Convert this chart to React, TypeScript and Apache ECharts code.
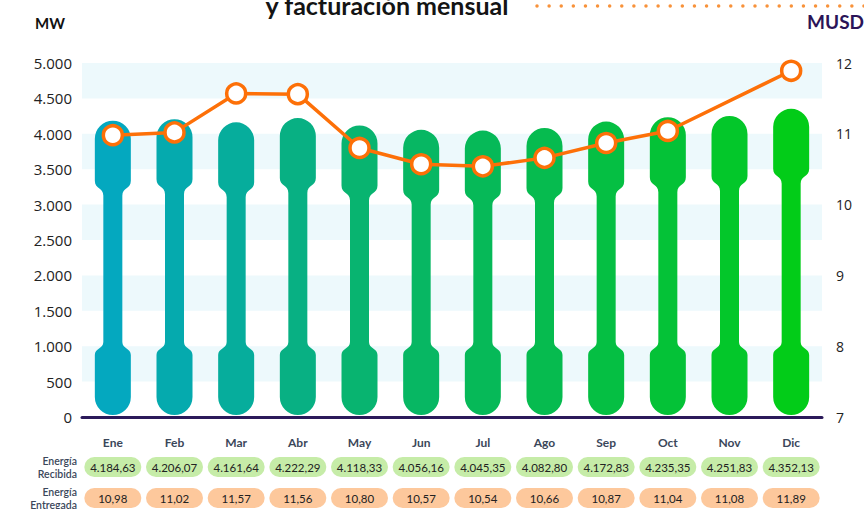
import React, { useEffect, useRef } from "react";
import * as echarts from "echarts";

const months = ["Ene", "Feb", "Mar", "Abr", "May", "Jun", "Jul", "Ago", "Sep", "Oct", "Nov", "Dic"];
const energiaRecibida = [4184.63, 4206.07, 4161.64, 4222.29, 4118.33, 4056.16, 4045.35, 4082.8, 4172.83, 4235.35, 4251.83, 4352.13];
const energiaEntregada = [10.98, 11.02, 11.57, 11.56, 10.8, 10.57, 10.54, 10.66, 10.87, 11.04, 11.08, 11.89];
// Line as drawn in the reference: no point for Nov (line goes Oct -> Dic)
const lineMUSD = [10.98, 11.02, 11.57, 11.56, 10.8, 10.57, 10.54, 10.66, 10.87, 11.04, null, 11.89];
const barColors = ["#04a8bf", "#05aaae", "#06ad9c", "#08b083", "#08b470", "#07b763", "#06b958", "#06bb4f", "#05bf43", "#04c237", "#03c72a", "#02cc18"];

const leftTicks = { min: 0, max: 5000, interval: 500 };
const rightTicks = { min: 7, max: 12, interval: 1 };

function fmt(v: number, d: number): string {
  const fixed = v.toFixed(d);
  const [intPart, dec] = fixed.split(".");
  const withDots = intPart.replace(/\B(?=(\d{3})+(?!\d))/g, ".");
  return dec ? withDots + "," + dec : withDots;
}

const FONT = "Lato, 'Open Sans', sans-serif";

export default function App() {
  const ref = useRef<HTMLDivElement>(null);
  useEffect(() => {
    if (!ref.current) return;
    const chart = echarts.init(ref.current, null, { renderer: "svg" });
    const W = 18;
    const S = 9.5;
    const option: any = {
      animation: false,
      grid: { left: 82, right: 42, top: 63, bottom: 92 },
      xAxis: {
        type: "category",
        data: months,
        offset: 2,
        axisLine: { show: true, lineStyle: { color: "#2b1a5a", width: 3 } },
        axisTick: { show: false },
        axisLabel: { fontFamily: FONT, fontWeight: "bold", fontSize: 12, color: "#3b475a", margin: 17 },
      },
      yAxis: [
        {
          type: "value",
          min: leftTicks.min,
          max: leftTicks.max,
          interval: leftTicks.interval,
          axisLine: { show: false },
          axisTick: { show: false },
          splitLine: { show: false },
          splitArea: { show: true, areaStyle: { color: ["rgba(255,255,255,0)", "#edf9fc"] } },
          axisLabel: { formatter: (v: number) => fmt(v, 0), fontSize: 15, color: "#222", margin: 10, fontFamily: "'Open Sans', sans-serif" },
        },
        {
          type: "value",
          min: rightTicks.min,
          max: rightTicks.max,
          interval: rightTicks.interval,
          position: "right",
          axisLine: { show: false },
          axisTick: { show: false },
          splitLine: { show: false },
          axisLabel: { fontSize: 14, color: "#222", margin: 14, fontFamily: "'Open Sans', sans-serif" },
        },
      ],
      series: [
        {
          type: "custom",
          name: "bars",
          data: energiaRecibida.map((v, i) => [i, v]),
          z: 2,
          renderItem: (params: any, api: any) => {
            const i = api.value(0);
            const v = api.value(1);
            const top = api.coord([i, v]);
            const base = api.coord([i, 0]);
            const cx = top[0];
            const yt = top[1];
            const yb = base[1] - 2;
            const H = 60, T = 15, B = 60, T2 = 13;
            const d = [
              `M ${cx - W} ${yt + W}`,
              `A ${W} ${W} 0 0 1 ${cx + W} ${yt + W}`,
              `L ${cx + W} ${yt + H}`,
              `C ${cx + W} ${yt + H + T * 0.55} ${cx + S} ${yt + H + T * 0.45} ${cx + S} ${yt + H + T}`,
              `L ${cx + S} ${yb - B - T2}`,
              `C ${cx + S} ${yb - B - T2 * 0.45} ${cx + W} ${yb - B - T2 * 0.55} ${cx + W} ${yb - B}`,
              `L ${cx + W} ${yb - W}`,
              `A ${W} ${W} 0 0 1 ${cx - W} ${yb - W}`,
              `L ${cx - W} ${yb - B}`,
              `C ${cx - W} ${yb - B - T2 * 0.55} ${cx - S} ${yb - B - T2 * 0.45} ${cx - S} ${yb - B - T2}`,
              `L ${cx - S} ${yt + H + T}`,
              `C ${cx - S} ${yt + H + T * 0.45} ${cx - W} ${yt + H + T * 0.55} ${cx - W} ${yt + H}`,
              "Z",
            ].join(" ");
            return { type: "path", shape: { pathData: d }, style: { fill: barColors[i] } };
          },
        },
        {
          type: "line",
          name: "MUSD",
          yAxisIndex: 1,
          data: lineMUSD,
          connectNulls: true,
          z: 5,
          symbol: "circle",
          symbolSize: 19,
          lineStyle: { color: "#fd7008", width: 3.5 },
          itemStyle: { color: "#ffffff", borderColor: "#fd7008", borderWidth: 3.5 },
        },
        {
          type: "custom",
          name: "pillsRecibida",
          data: energiaRecibida.map((v, i) => [i, v]),
          clip: false,
          renderItem: (params: any, api: any) => {
            const i = api.value(0);
            const v = api.value(1);
            const p = api.coord([i, 0]);
            const y = p[1] + 40;
            return {
              type: "group",
              children: [
                { type: "rect", shape: { x: p[0] - 28.5, y, width: 57, height: 20, r: 10 }, style: { fill: "#c6eca8" } },
                {
                  type: "text",
                  style: { text: fmt(v, 2), x: p[0], y: y + 10.5, align: "center", verticalAlign: "middle", fontSize: 11.5, fontFamily: FONT, fill: "#222" },
                },
              ],
            };
          },
        },
        {
          type: "custom",
          name: "pillsEntregada",
          data: energiaEntregada.map((v, i) => [i, v]),
          clip: false,
          renderItem: (params: any, api: any) => {
            const i = api.value(0);
            const v = api.value(1);
            const p = api.coord([i, 0]);
            const y = p[1] + 71;
            return {
              type: "group",
              children: [
                { type: "rect", shape: { x: p[0] - 28.5, y, width: 57, height: 20, r: 10 }, style: { fill: "#fdc89c" } },
                {
                  type: "text",
                  style: { text: fmt(v, 2), x: p[0], y: y + 10.5, align: "center", verticalAlign: "middle", fontSize: 11.5, fontFamily: FONT, fill: "#222" },
                },
              ],
            };
          },
        },
      ],
      graphic: [
        { type: "text", left: 35, top: 15, style: { text: "MW", font: `bold 15px ${FONT}`, fill: "#111" } },
        { type: "text", right: 0, top: 12, style: { text: "MUSD", font: `bold 19px ${FONT}`, fill: "#2b1458" } },
        { type: "text", x: 387, y: 17, style: { text: "y facturación mensual", font: `bold 25px ${FONT}`, fill: "#141414", align: "center", verticalAlign: "bottom" } },
        { type: "line", shape: { x1: 537, y1: 6, x2: 870, y2: 6 }, style: { stroke: "#f8923a", lineWidth: 3.5, lineDash: [0.01, 12.1], lineCap: "round" } },
        { type: "text", x: 77, y: 467, style: { text: "Energía\nRecibida", font: `600 10.5px ${FONT}`, fill: "#3b475a", align: "right", verticalAlign: "middle", lineHeight: 13 } },
        { type: "text", x: 77, y: 498, style: { text: "Energía\nEntregada", font: `600 10.5px ${FONT}`, fill: "#3b475a", align: "right", verticalAlign: "middle", lineHeight: 13 } },
      ],
    };
    chart.setOption(option);
    return () => chart.dispose();
  }, []);
  return <div ref={ref} style={{ width: 864, height: 509, position: "absolute", left: 0, top: 0 }} />;
}
